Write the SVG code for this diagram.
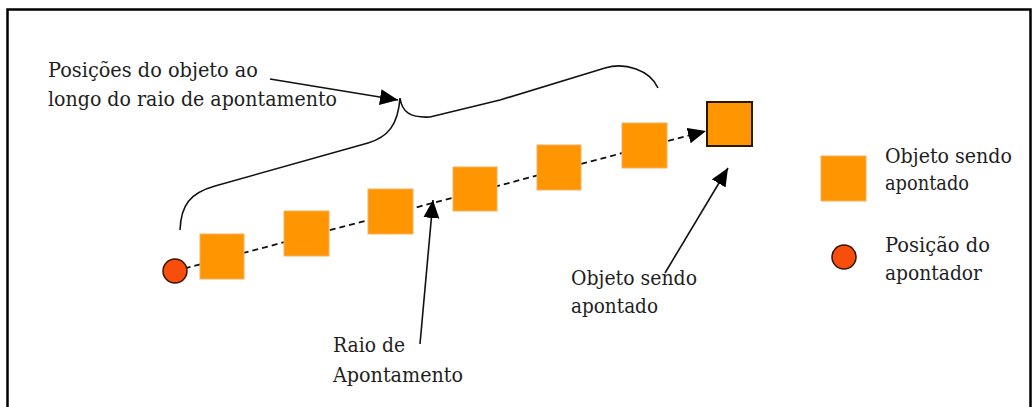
<svg xmlns="http://www.w3.org/2000/svg" width="1032" height="407" viewBox="0 0 1032 407">
  <style>
    .t { font-family: "DejaVu Serif", "Liberation Serif", serif; font-size: 20px; fill: #1e1e1e; }
    .pos { fill: #FF9500; stroke: #F3B060; stroke-width: 1; }
    .target { fill: #FF9500; stroke: #2a1800; stroke-width: 2; }
    .ptr { fill: #F84E0C; stroke: #3a1200; stroke-width: 1.5; }
    .line { fill: none; stroke: #111; stroke-width: 1.6; }
    .dash { fill: none; stroke: #111; stroke-width: 1.8; stroke-dasharray: 6 4; }
  </style>
  <defs>
    <marker id="arrow" markerUnits="userSpaceOnUse" markerWidth="20" markerHeight="18" refX="18" refY="8" orient="auto">
      <path d="M0,0 L18,8 L0,16 z" fill="#000"/>
    </marker>
  </defs>
  <rect width="1032" height="407" fill="#fff"/>
  <g id="frame" fill="none" stroke="#000" stroke-width="2.5">
    <path d="M7.5,420 L7.5,9.5 L1030.5,9.5 L1030.5,420"/>
  </g>

  <g id="connectors">
    <line id="ray" class="dash" x1="175" y1="271" x2="706" y2="131" marker-end="url(#arrow)"/>
    <path id="brace" class="line" d="M180,230 C181,205 190,193 215,186 L368,143 C388,137 398,125 400,98 C402,112 410,118 430,117 L500,100 L605,68 C625,62 650,70 658,88"/>
    <line id="arrow-positions" class="line" x1="270" y1="79" x2="398" y2="100" marker-end="url(#arrow)"/>
    <line id="arrow-ray" class="line" x1="420" y1="344" x2="433" y2="200" marker-end="url(#arrow)"/>
    <line id="arrow-target" class="line" x1="665" y1="273" x2="728" y2="168" marker-end="url(#arrow)"/>
  </g>

  <g id="pointer"><circle class="ptr" cx="175" cy="271" r="12"/></g>
  <g id="pos1"><rect class="pos" x="200" y="234" width="44" height="45"/></g>
  <g id="pos2"><rect class="pos" x="284" y="211" width="45" height="45"/></g>
  <g id="pos3"><rect class="pos" x="368" y="189" width="45" height="45"/></g>
  <g id="pos4"><rect class="pos" x="453" y="167" width="44" height="44"/></g>
  <g id="pos5"><rect class="pos" x="537" y="145" width="44" height="45"/></g>
  <g id="pos6"><rect class="pos" x="622" y="123" width="45" height="45"/></g>
  <g id="target"><rect class="target" x="707" y="102" width="45" height="44"/></g>

  <g id="label-positions">
    <text class="t" x="48" y="77" textLength="210" lengthAdjust="spacingAndGlyphs">Posições do objeto ao</text>
    <text class="t" x="48" y="106" textLength="289" lengthAdjust="spacingAndGlyphs">longo do raio de apontamento</text>
  </g>
  <g id="label-ray">
    <text class="t" x="333" y="352" textLength="72" lengthAdjust="spacingAndGlyphs">Raio de</text>
    <text class="t" x="333" y="382" textLength="130" lengthAdjust="spacingAndGlyphs">Apontamento</text>
  </g>
  <g id="label-target">
    <text class="t" x="571" y="285" textLength="126" lengthAdjust="spacingAndGlyphs">Objeto sendo</text>
    <text class="t" x="571" y="313" textLength="87" lengthAdjust="spacingAndGlyphs">apontado</text>
  </g>

  <g id="legend-object">
    <rect class="pos" x="821" y="156" width="45" height="45"/>
    <text class="t" x="885" y="163" textLength="127" lengthAdjust="spacingAndGlyphs">Objeto sendo</text>
    <text class="t" x="885" y="190" textLength="84" lengthAdjust="spacingAndGlyphs">apontado</text>
  </g>
  <g id="legend-pointer">
    <circle class="ptr" cx="844" cy="257" r="12"/>
    <text class="t" x="885" y="252" textLength="105" lengthAdjust="spacingAndGlyphs">Posição do</text>
    <text class="t" x="885" y="280" textLength="97" lengthAdjust="spacingAndGlyphs">apontador</text>
  </g>
</svg>
